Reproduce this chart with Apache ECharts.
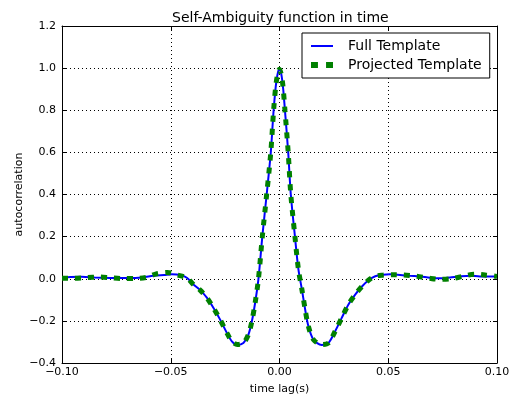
<!DOCTYPE html>
<html>
<head>
<meta charset="utf-8">
<script src="https://cdn.jsdelivr.net/npm/echarts@6/dist/echarts.min.js"></script>
<style>html,body{margin:0;padding:0;background:#fff}#c{width:511px;height:397px}</style>
</head>
<body>
<div id="c"></div>
<script>
var titleText = 'Self-Ambiguity function in time';
var xName = 'time lag(s)';
var yName = 'autocorrelation';
var seriesNames = ['Full Template', 'Projected Template'];
var xTicks = [-0.1, -0.05, 0, 0.05, 0.1];
var yTicks = [-0.4, -0.2, 0, 0.2, 0.4, 0.6, 0.8, 1.0, 1.2];

var fullTemplate = [
  [-0.100, 0.006], [-0.096, 0.008], [-0.091, 0.009], [-0.085, 0.006], [-0.078, 0.004],
  [-0.070, 0.003], [-0.063, 0.006], [-0.058, 0.014], [-0.053, 0.018], [-0.0495, 0.021],
  [-0.0457, 0.018], [-0.0426, 0.005], [-0.0396, -0.027], [-0.0365, -0.054], [-0.0334, -0.090],
  [-0.0304, -0.138], [-0.0273, -0.194], [-0.0242, -0.257], [-0.0219, -0.297], [-0.0194, -0.314],
  [-0.0166, -0.305], [-0.0143, -0.265], [-0.0127, -0.202], [-0.0112, -0.114], [-0.0097, -0.003],
  [-0.0079, 0.200], [-0.0059, 0.400], [-0.0040, 0.600], [-0.0027, 0.800], [-0.0014, 0.940],
  [0.0000, 1.000], [0.0013, 0.940], [0.0025, 0.800], [0.0040, 0.600], [0.0052, 0.400],
  [0.0071, 0.200], [0.0087, 0.044], [0.0103, -0.051], [0.0118, -0.146], [0.0133, -0.226],
  [0.0156, -0.289], [0.0194, -0.314], [0.0225, -0.305], [0.0256, -0.249], [0.0286, -0.186],
  [0.0317, -0.122], [0.0348, -0.075], [0.0378, -0.038], [0.0409, -0.007], [0.0440, 0.012],
  [0.0475, 0.019], [0.0508, 0.021], [0.0554, 0.018], [0.0600, 0.014], [0.0646, 0.011],
  [0.0692, 0.005], [0.0738, 0.002], [0.0784, 0.006], [0.0830, 0.011], [0.0876, 0.014],
  [0.0922, 0.011], [0.1000, 0.011]
];

var projectedTemplate = [
  [-0.100, 0.002], [-0.095, 0.002], [-0.089, 0.005], [-0.083, 0.008], [-0.078, 0.005],
  [-0.072, 0.001], [-0.066, 0.001], [-0.061, 0.007], [-0.057, 0.022], [-0.0516, 0.030],
  [-0.047, 0.018], [-0.0426, 0.004], [-0.0396, -0.027], [-0.0365, -0.054], [-0.0334, -0.090],
  [-0.0304, -0.138], [-0.0273, -0.194], [-0.0242, -0.257], [-0.0219, -0.297], [-0.0194, -0.312],
  [-0.0166, -0.305], [-0.0143, -0.265], [-0.0127, -0.202], [-0.0112, -0.114], [-0.0097, -0.003],
  [-0.0079, 0.200], [-0.0059, 0.400], [-0.0040, 0.600], [-0.0027, 0.800], [-0.0014, 0.940],
  [0.0000, 0.995], [0.0013, 0.940], [0.0025, 0.800], [0.0040, 0.600], [0.0052, 0.400],
  [0.0071, 0.200], [0.0087, 0.044], [0.0103, -0.051], [0.0118, -0.146], [0.0133, -0.226],
  [0.0156, -0.289], [0.0194, -0.312], [0.0225, -0.305], [0.0256, -0.249], [0.0286, -0.186],
  [0.0317, -0.122], [0.0348, -0.075], [0.0378, -0.038], [0.0409, -0.007], [0.0440, 0.012],
  [0.0475, 0.017], [0.0520, 0.019], [0.0570, 0.018], [0.0630, 0.012], [0.0690, 0.002],
  [0.0738, -0.003], [0.0790, 0.000], [0.0845, 0.012], [0.0898, 0.022], [0.0950, 0.017],
  [0.1000, 0.011]
];

function fmtNum(v, d) {
  var s = Math.abs(v).toFixed(d);
  return (v < -1e-12 ? '\u2212' : '') + s;
}

var FONT = 'DejaVu Sans';
var chart = echarts.init(document.getElementById('c'), null, {renderer: 'canvas'});

var gridLine = {show: true, lineStyle: {color: '#000', type: [1, 3], width: 1}};
var axisLineStyle = {show: true, onZero: false, lineStyle: {color: '#000', width: 1}};
var tickStyle = {show: true, inside: true, length: 4, lineStyle: {color: '#000'}};

chart.setOption({
  animation: false,
  backgroundColor: '#fff',
  title: {
    text: titleText, left: 167, top: 6,
    textStyle: {fontFamily: FONT, fontSize: 14, fontWeight: 'normal', color: '#000'}
  },
  legend: {
    orient: 'vertical',
    left: 302, top: 33,
    width: 188,
    padding: [6, 8, 6, 9],
    itemGap: 5,
    itemWidth: 22, itemHeight: 15,
    borderColor: '#000', borderWidth: 1,
    backgroundColor: '#fff',
    textStyle: {fontFamily: FONT, fontSize: 14, color: '#000', padding: [0, 0, 0, 10]},
    data: [
      {name: seriesNames[0], icon: 'path://M0,6L22,6L22,8L0,8Z', itemStyle: {color: '#0000ff'}},
      {name: seriesNames[1], icon: 'path://M0,5L6,5L6,10L0,10ZM13,5L19,5L19,10L13,10Z', itemStyle: {color: '#008000'}}
    ]
  },
  grid: {left: 62, right: 14, top: 26, bottom: 34, show: false, outerBoundsMode: 'none', containLabel: false},
  xAxis: [{
    type: 'value', min: -0.1, max: 0.1, interval: 0.05,
    name: xName, nameLocation: 'middle', nameGap: 21, nameMoveOverlap: false,
    nameTextStyle: {fontFamily: FONT, fontSize: 11, color: '#000'},
    axisLine: axisLineStyle,
    axisTick: tickStyle,
    axisLabel: {fontFamily: FONT, fontSize: 11, color: '#000', margin: 4,
      formatter: function (v) { return fmtNum(v, 2); }},
    splitLine: gridLine
  }, {
    type: 'value', min: -0.1, max: 0.1, interval: 0.05, position: 'top',
    axisLine: axisLineStyle,
    axisTick: tickStyle,
    axisLabel: {show: false}, splitLine: {show: false}
  }],
  yAxis: [{
    type: 'value', min: -0.4, max: 1.2, interval: 0.2,
    name: yName, nameLocation: 'middle', nameGap: 37, nameMoveOverlap: false,
    nameTextStyle: {fontFamily: FONT, fontSize: 11, color: '#000'},
    axisLine: axisLineStyle,
    axisTick: tickStyle,
    axisLabel: {fontFamily: FONT, fontSize: 11, color: '#000', margin: 6,
      formatter: function (v) { return fmtNum(v, 1); }},
    splitLine: gridLine
  }, {
    type: 'value', min: -0.4, max: 1.2, interval: 0.2, position: 'right',
    axisLine: axisLineStyle,
    axisTick: tickStyle,
    axisLabel: {show: false}, splitLine: {show: false}
  }],
  series: [{
    name: seriesNames[0], type: 'line', data: fullTemplate,
    xAxisIndex: 0, yAxisIndex: 0,
    showSymbol: false, symbol: 'none', smooth: 0.3,
    lineStyle: {color: '#0000ff', width: 2},
    itemStyle: {color: '#0000ff'}, z: 2
  }, {
    name: seriesNames[1], type: 'line', data: projectedTemplate,
    xAxisIndex: 0, yAxisIndex: 0,
    showSymbol: false, symbol: 'none', smooth: 0.3,
    lineStyle: {color: '#008000', width: 5, type: [6, 7], cap: 'butt'},
    itemStyle: {color: '#008000'}, z: 3
  }]
});
</script>
</body>
</html>
